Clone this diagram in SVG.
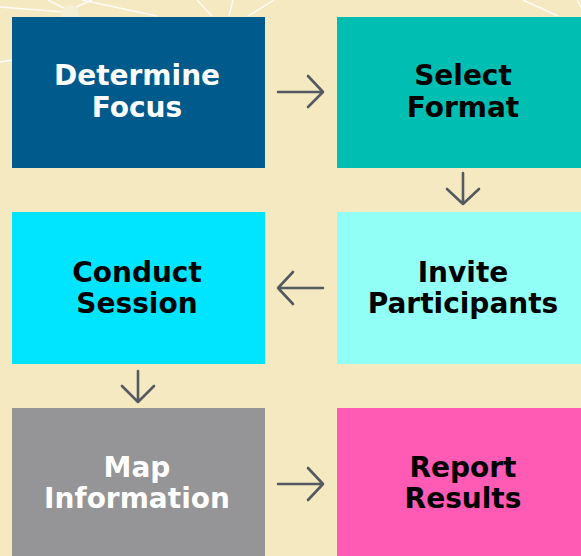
<svg xmlns="http://www.w3.org/2000/svg" width="581" height="556" viewBox="0 0 581 556">
<style>
.lbl{font-family:"DejaVu Sans","Liberation Sans",sans-serif;font-weight:bold;font-size:28px;text-anchor:middle}
.w{fill:#ffffff}
.k{fill:#000000}
.ray{stroke:#ffffff;stroke-width:1.4;opacity:0.85;fill:none}
.arr{stroke:#555960;stroke-width:2.6;fill:none;stroke-linecap:round;stroke-linejoin:round}
</style>
<rect x="0" y="0" width="581" height="556" fill="#f5e9c2"/>
<g id="background-rays">
<line class="ray" x1="0" y1="7" x2="64" y2="12"/>
<line class="ray" x1="48" y1="0" x2="64" y2="8"/>
<line class="ray" x1="76" y1="7" x2="92" y2="0"/>
<line class="ray" x1="82" y1="0" x2="157" y2="16"/>
<line class="ray" x1="197" y1="0" x2="212" y2="16"/>
<line class="ray" x1="233" y1="0" x2="229" y2="16"/>
<line class="ray" x1="274" y1="0" x2="248" y2="16"/>
<line class="ray" x1="523" y1="0" x2="558" y2="16"/>
<line class="ray" x1="577" y1="0" x2="581" y2="7"/>
<line class="ray" x1="0" y1="62" x2="12" y2="60"/>
<circle cx="70" cy="14" r="9" fill="#f5efd6"/>
</g>
<g id="connectors">
<path class="arr" d="M278 92 H323 M308 76 L323 92 L308 107"/>
<path class="arr" d="M463 173 V204 M447 189 L463 204 L479 189"/>
<path class="arr" d="M323 288 H278 M293 272 L278 288 L293 304"/>
<path class="arr" d="M138 371 V402 M122 386 L138 402 L154 386"/>
<path class="arr" d="M278 484 H323 M308 468 L323 484 L308 500"/>
</g>
<g id="determine-focus">
<rect x="12" y="17" width="253" height="151" fill="#005b8c"/>
<text class="lbl w" x="137" y="85">Determine</text>
<text class="lbl w" x="137" y="117">Focus</text>
</g>
<g id="select-format">
<rect x="337" y="17" width="244" height="151" fill="#00bfb2"/>
<text class="lbl k" x="463" y="85">Select</text>
<text class="lbl k" x="463" y="117">Format</text>
</g>
<g id="conduct-session">
<rect x="12" y="212" width="253" height="152" fill="#00e5ff"/>
<text class="lbl k" x="137" y="282">Conduct</text>
<text class="lbl k" x="137" y="313">Session</text>
</g>
<g id="invite-participants">
<rect x="337" y="212" width="244" height="152" fill="#91fff6"/>
<text class="lbl k" x="463" y="282">Invite</text>
<text class="lbl k" x="463" y="313">Participants</text>
</g>
<g id="map-information">
<rect x="12" y="408" width="253" height="148" fill="#959497"/>
<text class="lbl w" x="137" y="477">Map</text>
<text class="lbl w" x="137" y="508">Information</text>
</g>
<g id="report-results">
<rect x="337" y="408" width="244" height="148" fill="#ff5ab4"/>
<text class="lbl k" x="463" y="477">Report</text>
<text class="lbl k" x="463" y="508">Results</text>
</g>
</svg>
